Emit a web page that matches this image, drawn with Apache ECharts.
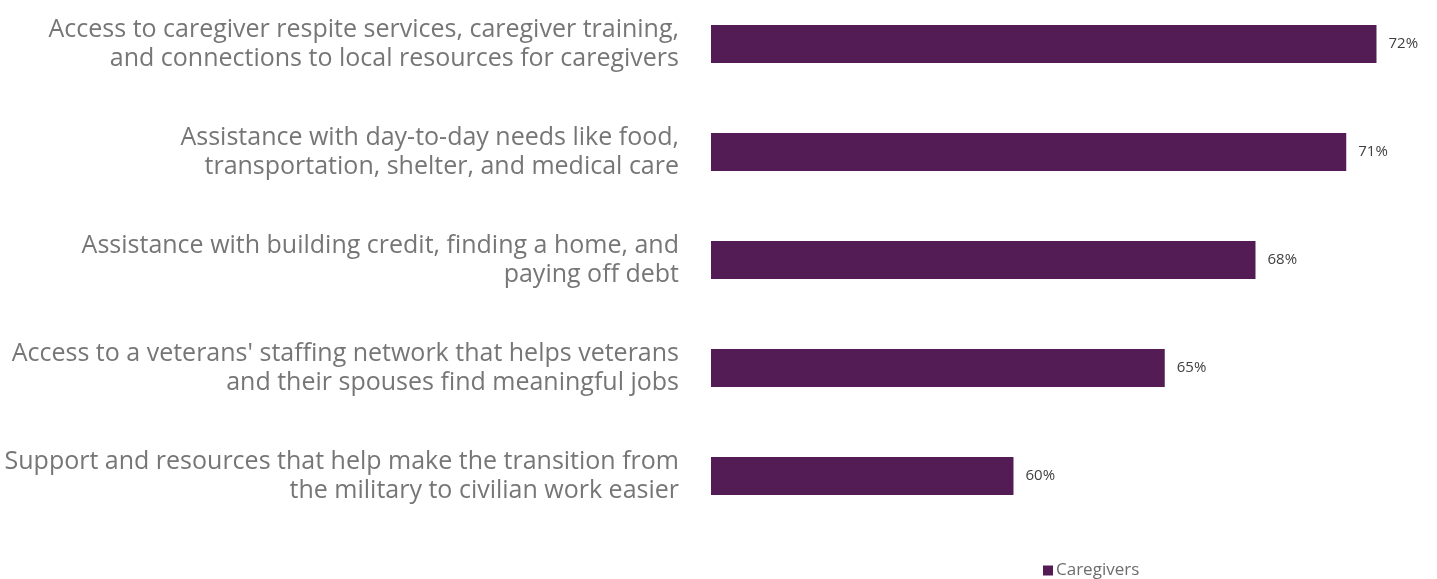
<!DOCTYPE html>
<html><head><meta charset="utf-8">
<script src="https://cdn.jsdelivr.net/npm/echarts@6/dist/echarts.min.js"></script>
<style>html,body{margin:0;padding:0;background:#fff}#c{width:1437px;height:579px}</style>
</head><body><div id="c"></div>
<script>
var categories = [
  "Access to caregiver respite services, caregiver training,\nand connections to local resources for caregivers",
  "Assistance with day-to-day needs like food,\ntransportation, shelter, and medical care",
  "Assistance with building credit, finding a home, and\npaying off debt",
  "Access to a veterans' staffing network that helps veterans\nand their spouses find meaningful jobs",
  "Support and resources that help make the transition from\nthe military to civilian work easier"
];
var seriesName = "Caregivers";
var values = [72, 71, 68, 65, 60];

var chart = echarts.init(document.getElementById('c'), null, {renderer: 'canvas'});
chart.setOption({
  animation: false,
  textStyle: {fontFamily: 'Open Sans'},
  grid: {left: 711, right: 0, top: -10, height: 540, containLabel: false, outerBoundsMode: 'none'},
  xAxis: {type: 'value', min: 50, max: 74, show: false},
  yAxis: {
    type: 'category', data: categories, inverse: true,
    axisLine: {show: false}, axisTick: {show: false}, splitLine: {show: false},
    axisLabel: {margin: 32, fontSize: 25, color: '#767676', lineHeight: 29, align: 'right',
      padding: [0, 0, 8, 0], fontFamily: 'Open Sans'}
  },
  legend: {
    data: [seriesName], left: 1043, top: 562, padding: 0, itemWidth: 10, itemHeight: 10, itemGap: 3,
    icon: 'rect', textStyle: {fontSize: 17, color: '#6d6d6d', padding: [0,0,0,-2], fontFamily: 'Open Sans'}
  },
  series: [{
    name: seriesName, type: 'bar', data: values, barWidth: 38,
    itemStyle: {color: '#541c54'},
    label: {show: true, position: 'right', distance: 12, formatter: '{c}%', fontSize: 15, color: '#404040', fontFamily: 'Open Sans'}
  }]
});
</script></body></html>
